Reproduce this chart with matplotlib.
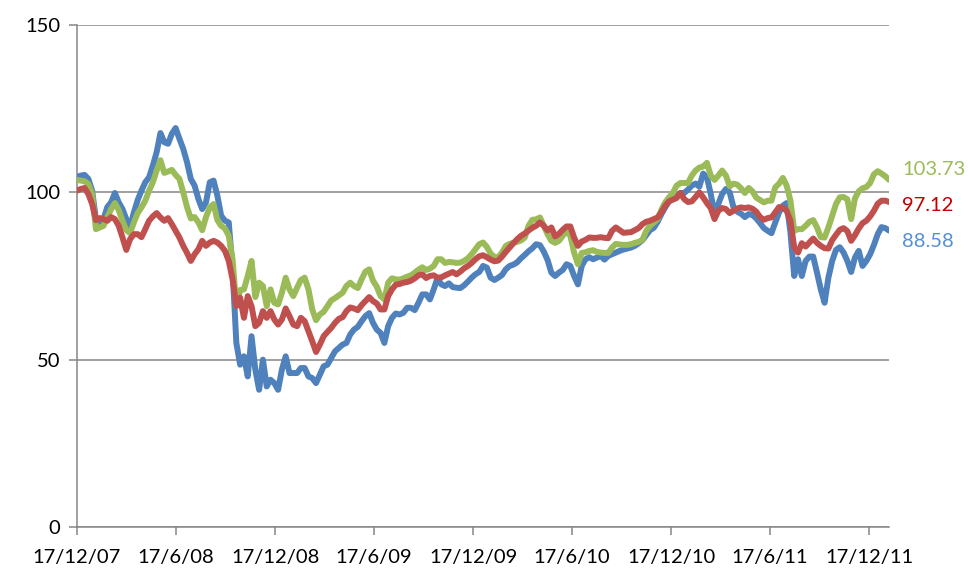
import matplotlib
matplotlib.use("Agg")
import matplotlib.pyplot as plt
import pandas as pd

plt.rcParams["font.family"] = ["Lato", "DejaVu Sans"]

# Weekly index levels, rebased to 100 on 17 Dec 2007
start_date = "2007-12-17"
n_weeks = 215

blue_vals = [
    104.6, 105, 105.2, 104, 100.5, 92, 90, 92, 95.6, 97,
    99.8, 97, 95, 92, 89.6, 94, 97.7, 100.5, 103, 104.5,
    108, 112, 117.7, 115, 114.5, 117.5, 119.2, 116, 113, 109,
    104, 102, 98, 95, 97, 103, 103.5, 99, 93, 91.5,
    91, 77, 55, 48.5, 51, 45, 57, 47, 41, 50,
    42, 44, 43, 41, 47, 51, 46, 46, 46, 47.5,
    47.5, 45, 44.5, 43, 45.5, 48, 48.5, 50.5, 52.5, 53.5,
    54.5, 55, 57.5, 59, 59.8, 61.5, 63, 63.9, 61, 59,
    58, 55, 60, 62.5, 63.8, 63.5, 64, 65.5, 65.5, 64.8,
    67, 69.5, 69.5, 68, 71, 74.4, 72.5, 72, 72.8, 71.7,
    71.5, 71.4, 72.2, 73.3, 74.5, 75.5, 76.2, 78, 77.5, 74.5,
    73.8, 74.5, 75.3, 77, 78, 78.4, 79.1, 80.3, 81.3, 82.4,
    83.3, 84.5, 84.2, 82.3, 79.8, 76, 75, 76, 76.8, 78.5,
    78, 75, 72.5, 78, 80, 80.6, 80, 80.5, 81, 79.9,
    81, 81.5, 82, 82.5, 82.9, 83.2, 83.5, 84, 84.8, 85.7,
    87.2, 88.7, 89.4, 91.2, 93.5, 95.5, 97.3, 98.2, 99, 99.8,
    99.8, 100.8, 102, 102.6, 101.7, 105.6, 104.5, 99.5, 93.5, 96.5,
    99.5, 101, 100, 95.5, 94.2, 93.6, 92.6, 93.5, 93.2, 92.2,
    90.8, 89.3, 88.5, 87.8, 91, 94, 96, 96.8, 88, 75,
    80, 75, 79.5, 80.8, 80.8, 76, 71, 67, 74.5, 79.5,
    82.8, 83.6, 82, 79.5, 76.2, 80.5, 82.5, 78, 79.5, 81.5,
    84.3, 87.5, 89.6, 89.3, 88.58,
]

red_vals = [
    100.5, 101, 101.3, 99.5, 96.5, 91.7, 92.3, 92, 91.5, 92.6,
    92, 90, 86.5, 82.8, 86, 87.5, 87.5, 86.6, 89, 91.5,
    92.8, 93.8, 92.5, 91.5, 92.3, 90.5, 88.5, 86.5, 84, 81.9,
    79.5, 81.5, 83, 85.5, 84, 85, 85.5, 85, 84, 82.5,
    79.5, 74, 66, 68.5, 62.5, 69, 66, 60, 61, 64.5,
    62.5, 64.5, 62, 60.5, 62, 65.3, 63, 60.5, 60, 62.5,
    61.5, 58.5, 55.5, 52.3, 54.5, 57, 58.3, 59.5, 61, 62.2,
    62.7, 64.5, 65.6, 65.3, 64.8, 66.3, 67.5, 68.7, 67.5, 66.8,
    65, 65, 69, 71, 72.4, 72.6, 73, 73.2, 73.6, 74.3,
    75.2, 75.5, 74.4, 75, 75.2, 74.5, 74.6, 75.2, 75.7, 76.2,
    75.5, 76.3, 77.3, 78, 78.9, 80, 80.9, 81.2, 80.6, 79.9,
    79.4, 79.6, 80.8, 82.2, 83.5, 84.8, 86, 87, 87.7, 88.6,
    89.4, 90, 91, 90, 88.6, 89.5, 86.8, 87.6, 88.8, 89.8,
    89.8, 86.5, 84, 85.3, 85.8, 86.5, 86.4, 86.4, 86.6, 86.4,
    86.3, 88.5, 89.5, 88.7, 87.9, 88, 88.1, 88.7, 89.3, 90.5,
    91.2, 91.5, 92, 92.5, 94, 96, 97.3, 97.8, 98.3, 99.8,
    98, 97.1, 97.3, 98.6, 100, 98.5, 96.8, 95.3, 92, 94.5,
    95.3, 95, 93.8, 94.5, 95.2, 95.5, 95.3, 95.5, 95.1, 94.2,
    92.6, 91.8, 92.3, 92.5, 94, 95.6, 95.4, 94.5, 91.5, 83.5,
    82, 84.8, 83.8, 85, 86.2, 84.9, 84, 83.3, 83.2, 85.7,
    87.3, 88.8, 89.3, 88.4, 85.5, 87.2, 89.2, 90.8, 91.5, 92.8,
    94.5, 96.6, 97.5, 97.5, 97.12,
]

green_vals = [
    103.7, 103.5, 103.3, 102.5, 99.5, 89, 89.5, 90, 92.6, 95,
    96.8, 94.7, 91.5, 88.7, 87.8, 91, 93.8, 95.5, 97.5, 100.5,
    103, 106.5, 109.6, 105.8, 106.2, 106.7, 105.2, 104, 100, 95.6,
    92.2, 92.6, 91, 88.7, 92.6, 95.5, 96.5, 91.7, 90, 89.2,
    87, 80, 66, 70.8, 71, 75, 79.5, 68.7, 73, 72,
    66, 71, 67, 66.5, 70, 74.5, 71, 69, 71.5, 73.8,
    74.5, 71, 65, 61.8, 63.5, 64.3, 66, 67.7, 68.4, 69.2,
    70, 72, 73, 72, 71.4, 74, 76.3, 77, 73.6, 71.8,
    69, 68, 73, 74.3, 74, 73.9, 74.3, 74.8, 75.2, 76,
    76.9, 77.6, 76.8, 77.2, 78, 80, 80, 78.9, 79.2, 79.1,
    78.9, 79, 79.5, 80.3, 81.5, 83, 84.5, 85, 83.7, 81.7,
    80.7, 80.6, 82, 84, 84.6, 84.9, 85.2, 85.6, 86.5, 90,
    91.8, 91.9, 92.5, 90, 87.5, 85.5, 84.9, 85.5, 87, 88.5,
    87, 82, 78.5, 81.9, 82.1, 82.5, 82.7, 82.2, 82, 81.9,
    81.9, 83.5, 84.6, 84.4, 84.3, 84.3, 84.5, 84.9, 85.2, 85.8,
    88.5, 90, 91, 92, 94.8, 97, 98.5, 99.8, 102, 102.8,
    102.8, 102.8, 105, 106.5, 107.4, 107.7, 108.8, 105, 103.7, 105,
    106.5, 105, 101.8, 102.6, 102.3, 101.2, 99.8, 101.3, 100.3, 98.4,
    97.7, 97, 97.5, 97.5, 101.5, 102.6, 104.3, 102, 97.5, 88.5,
    89, 89, 90, 91.2, 91.7, 89.5, 86.6, 86.5, 89.5, 93,
    96.5, 98.5, 98.6, 97.9, 92, 98.2, 100.3, 101.2, 101.6, 102.8,
    105.4, 106.3, 105.6, 104.8, 103.73,
]

tick_dates = ["2007-12-17", "2008-06-17", "2008-12-17", "2009-06-17",
              "2009-12-17", "2010-06-17", "2010-12-17", "2011-06-17",
              "2011-12-17"]
tick_labels = ["17/12/07", "17/6/08", "17/12/08", "17/6/09", "17/12/09",
               "17/6/10", "17/12/10", "17/6/11", "17/12/11"]
y_ticks = [0, 50, 100, 150]

dates = pd.date_range(start_date, periods=n_weeks, freq="7D")

BLUE = "#4F81BD"
RED = "#C0504D"
GREEN = "#9BBB59"
GRID = "#868686"

fig = plt.figure(figsize=(9.68, 5.69), dpi=100)
ax = fig.add_axes([0.0795, 0.0738, 0.839, 0.8823])

line_kw = dict(linewidth=4.3, solid_joinstyle="round", solid_capstyle="round")
ax.plot(dates, blue_vals, color=BLUE, zorder=3, **line_kw)
ax.plot(dates, green_vals, color=GREEN, zorder=4, **line_kw)
ax.plot(dates, red_vals, color=RED, zorder=5, **line_kw)

ax.set_xlim(dates[0], dates[-1])
ax.set_ylim(0, 150)
ax.set_yticks(y_ticks)
ax.set_yticklabels([str(v) for v in y_ticks])
ax.set_xticks(pd.to_datetime(tick_dates))
ax.set_xticklabels(tick_labels)

ax.grid(axis="y", color=GRID, linewidth=1.1, zorder=1)
ax.set_axisbelow(True)
for side in ("top", "right"):
    ax.spines[side].set_visible(False)
for side in ("left", "bottom"):
    ax.spines[side].set_color(GRID)
    ax.spines[side].set_linewidth(1.1)

ax.tick_params(axis="x", direction="out", length=6, width=1.1, color=GRID,
               labelsize=14.5, pad=10)
ax.tick_params(axis="y", direction="out", length=6, width=1.1, color=GRID,
               labelsize=14.5, pad=6)

# Closing values printed beside the end of each line
end_labels = [
    (green_vals[-1], GREEN, 10),
    (red_vals[-1], "#C00000", -4),
    (blue_vals[-1], "#558ED5", -11),
]
for val, col, dy in end_labels:
    ax.annotate(f"{val:.2f}", xy=(dates[-1], val), xytext=(13, dy),
                textcoords="offset pixels", ha="left", va="center",
                color=col, fontsize=14.5, annotation_clip=False)

fig.savefig("out.png", dpi=100)
